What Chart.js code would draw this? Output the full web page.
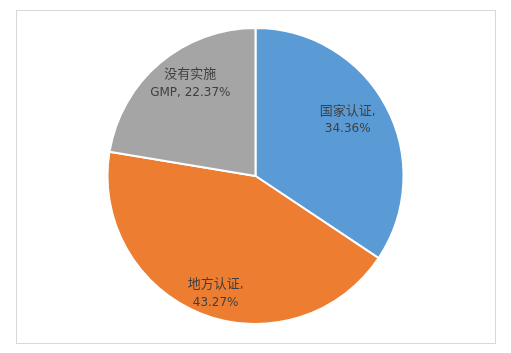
<!DOCTYPE html>
<html>
<head>
<meta charset="utf-8">
<script src="https://cdn.jsdelivr.net/npm/chart.js@4/dist/chart.umd.min.js"></script>
<style>
    html, body { margin: 0; padding: 0; background: #fff; }
    #wrap { position: relative; width: 511px; height: 353px; }
    #frame { position: absolute; left: 16px; top: 10px; width: 478px; height: 332px; border: 1px solid #d9d9d9; }
    #pieChart { position: absolute; left: 0; top: 0; }
</style>
</head>
<body>
<div id="wrap">
    <div id="frame"></div>
    <canvas id="pieChart" width="511" height="353"></canvas>
</div>
<script>
var categories = ["国家认证", "地方认证", "没有实施GMP"];
var shares = [34.36, 43.27, 22.37];
var labelLines = [["国家认证,", "34.36%"], ["地方认证,", "43.27%"], ["没有实施", "GMP, 22.37%"]];
var colors = ["#5b9bd5", "#ed7d31", "#a5a5a5"];

// 扇区内标签: 离圆心比例 + 角度微调(度)
var labelRadius = [0.74, 0.82, 0.78];
var labelTurn = [-4.5, -2.4, 5.9];
var cjkFont = '13px "Noto Sans CJK SC", sans-serif';
var latinFont = '12px "DejaVu Sans", sans-serif';

// 中文和西文分开用字体
function splitRuns(text) {
    var runs = [];
    for (var k = 0; k < text.length; k++) {
        var ch = text[k];
        var cjk = /[\u3000-\u9fff\uff00-\uffef]/.test(ch);
        if (runs.length && runs[runs.length - 1].cjk === cjk) {
            runs[runs.length - 1].t += ch;
        } else {
            runs.push({ t: ch, cjk: cjk });
        }
    }
    return runs;
}

function drawMixed(ctx, text, cx, baseY) {
    var runs = splitRuns(text);
    var total = 0;
    runs.forEach(function (r) {
        ctx.font = r.cjk ? cjkFont : latinFont;
        r.w = ctx.measureText(r.t).width;
        total += r.w;
    });
    var x = cx - total / 2;
    runs.forEach(function (r) {
        ctx.font = r.cjk ? cjkFont : latinFont;
        ctx.fillText(r.t, x, baseY);
        x += r.w;
    });
}

var sliceLabels = {
    id: "sliceLabels",
    afterDatasetsDraw: function (chart) {
        var ctx = chart.ctx;
        var meta = chart.getDatasetMeta(0);
        ctx.save();
        ctx.fillStyle = "#404040";
        ctx.textAlign = "left";
        ctx.textBaseline = "alphabetic";
        meta.data.forEach(function (arc, i) {
            var mid = (arc.startAngle + arc.endAngle) / 2 + labelTurn[i] * Math.PI / 180;
            var r = arc.outerRadius * labelRadius[i];
            var x = arc.x + Math.cos(mid) * r;
            var y = arc.y + Math.sin(mid) * r + 1.5;
            var lines = labelLines[i];
            var lh = 17.5;
            var y0 = y - (lines.length - 1) * lh / 2;
            lines.forEach(function (t, j) {
                drawMixed(ctx, t, x, y0 + j * lh + 5);
            });
        });
        ctx.restore();
    }
};

document.addEventListener("DOMContentLoaded", function () {
    var ctx = document.getElementById("pieChart").getContext("2d");
    new Chart(ctx, {
        type: 'pie',
        data: {
            labels: categories,
            datasets: [{
                data: shares,
                backgroundColor: colors,
                borderColor: "#ffffff",
                borderWidth: 2
            }]
        },
        options: {
            responsive: false,
            animation: false,
            layout: { padding: { top: 27, bottom: 28, left: 0, right: 0 } },
            plugins: {
                legend: { display: false },
                tooltip: { enabled: false }
            }
        },
        plugins: [sliceLabels]
    });
});
</script>
</body>
</html>
